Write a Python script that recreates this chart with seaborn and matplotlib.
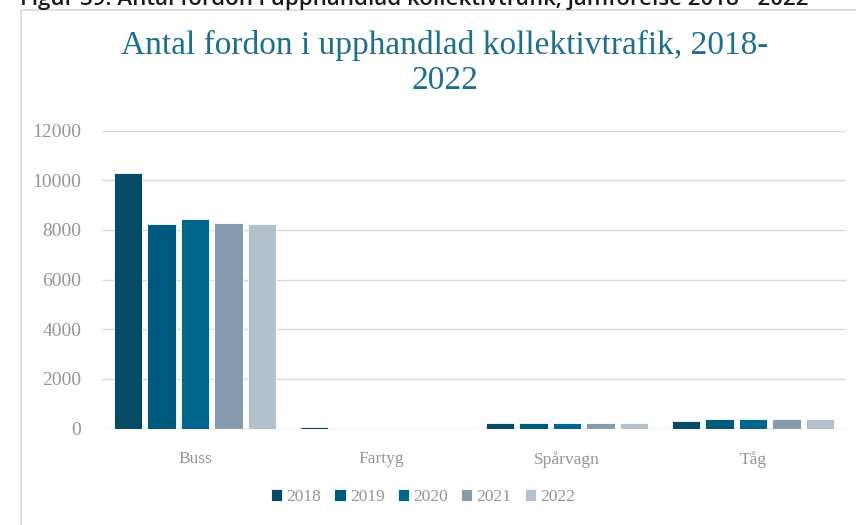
import pandas as pd
import numpy as np
import matplotlib.pyplot as plt
import seaborn as sns
from matplotlib.patches import Rectangle

# data
categories = ['Buss', 'Fartyg', 'Spårvagn', 'Tåg']
years = ['2018', '2019', '2020', '2021', '2022']
v2018 = [10300, 80, 240, 310]
v2019 = [8220, 0, 240, 380]
v2020 = [8430, 0, 240, 380]
v2021 = [8280, 0, 240, 380]
v2022 = [8220, 0, 240, 380]

colors = ['#064a63', '#005a7d', '#00668c', '#869bad', '#b4c1cb']

rows = []
for yr, vals in zip(years, [v2018, v2019, v2020, v2021, v2022]):
    for c, v in zip(categories, vals):
        rows.append({'kategori': c, 'år': yr, 'antal': v})
df = pd.DataFrame(rows)

sns.set_style('white')
plt.rcParams['font.family'] = ['Liberation Serif', 'DejaVu Serif']

fig = plt.figure(figsize=(8.56, 5.25), dpi=100)
W, H = 856, 525
ax = fig.add_axes([102 / W, 1 - 428.5 / H, (846 - 102) / W, (428.5 - 130.5) / H])

sns.barplot(data=df, x='kategori', y='antal', hue='år', order=categories,
            hue_order=years, palette=colors, saturation=1, width=0.9, gap=0.16,
            edgecolor='white', linewidth=0.6, ax=ax)

ax.set_ylim(0, 12000)
ax.set_yticks(np.arange(0, 12001, 2000))
ax.yaxis.grid(True, color='#d9d9d9', linewidth=1)
ax.set_axisbelow(True)
for s in ['top', 'right', 'left', 'bottom']:
    ax.spines[s].set_visible(False)
ax.axhline(0, color='#d9d9d9', linewidth=1, zorder=0)
ax.tick_params(axis='y', length=0, pad=15, labelsize=14, labelcolor='#959595')
ax.tick_params(axis='x', length=0, pad=16, labelsize=12.5, labelcolor='#959595')
ax.set_xlabel('')
ax.set_ylabel('')

handles, labels = ax.get_legend_handles_labels()
ax.legend(handles, labels, loc='center', bbox_to_anchor=(423 / W, 1 - 497 / H),
          bbox_transform=fig.transFigure, ncol=5, frameon=False,
          handlelength=0.65, handleheight=0.65, handletextpad=0.25,
          columnspacing=0.75, fontsize=12.5, labelcolor='#959595')

# chart frame
fig.patches.append(Rectangle((21 / W, -0.1), 1.0, 1 - 10 / H + 0.1,
                             transform=fig.transFigure, fill=False,
                             edgecolor='#d9d9d9', linewidth=1.2))

fig.text(445 / W, 1 - 63 / H, 'Antal fordon i upphandlad kollektivtrafik, 2018-\n2022',
         ha='center', va='center', fontsize=24, color='#1d6f8e',
         linespacing=1.2)

# caption cut off at top of the picture
fig.text(20 / W, 1 - 5 / H,
         'Figur 39. Antal fordon i upphandlad kollektivtrafik, jämförelse 2018 - 2022',
         ha='left', va='baseline', fontsize=16, color='#1a1a1a', weight='semibold',
         family=['Open Sans', 'DejaVu Sans'])

fig.savefig('out.png', dpi=100)
